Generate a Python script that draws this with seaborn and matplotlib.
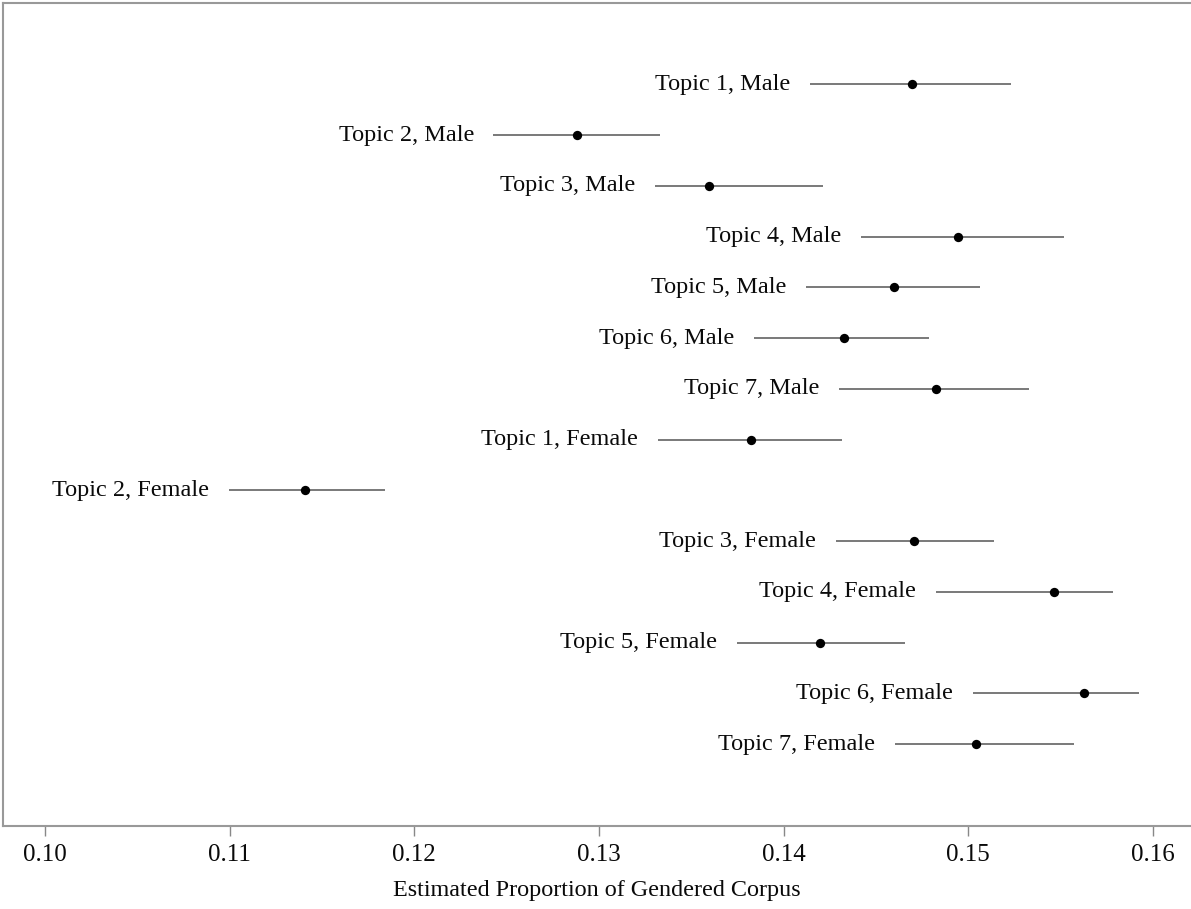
import numpy as np
import pandas as pd
import seaborn as sns
from matplotlib import pyplot as plt

labels = ['Topic 1, Male', 'Topic 2, Male', 'Topic 3, Male', 'Topic 4, Male',
          'Topic 5, Male', 'Topic 6, Male', 'Topic 7, Male',
          'Topic 1, Female', 'Topic 2, Female', 'Topic 3, Female', 'Topic 4, Female',
          'Topic 5, Female', 'Topic 6, Female', 'Topic 7, Female']
estimate = [0.14697, 0.12883, 0.13593, 0.14943, 0.14596, 0.14325, 0.14824,
            0.13821, 0.11409, 0.14705, 0.15463, 0.14195, 0.15626, 0.15041]
ci_lower = [0.14142, 0.12428, 0.13301, 0.14417, 0.14119, 0.13837, 0.14298,
            0.13317, 0.10994, 0.14282, 0.14824, 0.13745, 0.15024, 0.14602]
ci_upper = [0.15230, 0.13328, 0.14211, 0.15518, 0.15062, 0.14786, 0.15328,
            0.14314, 0.11843, 0.15138, 0.15783, 0.14656, 0.15924, 0.15572]
xticks = [0.10, 0.11, 0.12, 0.13, 0.14, 0.15, 0.16]

df = pd.DataFrame({'label': labels, 'est': estimate,
                   'lo': ci_lower, 'hi': ci_upper})
df['row'] = np.arange(len(df))

sns.set_style('white')
plt.rcParams['font.family'] = ['Liberation Serif', 'DejaVu Serif']

fig = plt.figure(figsize=(11.91, 9.09), dpi=100)
ax = fig.add_axes([0.0025, 0.0913, 0.9975, 0.9054])

ax.hlines(df['row'], df['lo'], df['hi'], color='#555555', lw=1.1, zorder=1)
sns.scatterplot(data=df, x='est', y='row', color='black', s=45,
                edgecolor='black', linewidth=0, ax=ax, zorder=2)

for _, r in df.iterrows():
    ax.annotate(r['label'], xy=(r['lo'], r['row']), xytext=(-14, 0),
                textcoords='offset points', ha='right', va='center',
                fontsize=17.5, color='#0a0a0a')

ax.set_xlim(0.09772, 0.16206)
ax.set_ylim(len(df) - 1 + 1.61, -1.6)
ax.set_xticks(xticks)
ax.set_xticklabels([f'{t:.2f}' for t in xticks], fontsize=18, color='#0a0a0a')
ax.set_yticks([])
ax.set_ylabel('')
ax.set_xlabel('Estimated Proportion of Gendered Corpus', fontsize=17.4,
              color='#0a0a0a', labelpad=10)
ax.tick_params(axis='x', direction='out', length=7, width=1,
               color='#888888', pad=6, bottom=True)
for side in ['left', 'top', 'bottom']:
    ax.spines[side].set_color('#999999')
    ax.spines[side].set_linewidth(1.5)
ax.spines['right'].set_visible(False)

fig.savefig('out.png', dpi=100)
plt.close()
